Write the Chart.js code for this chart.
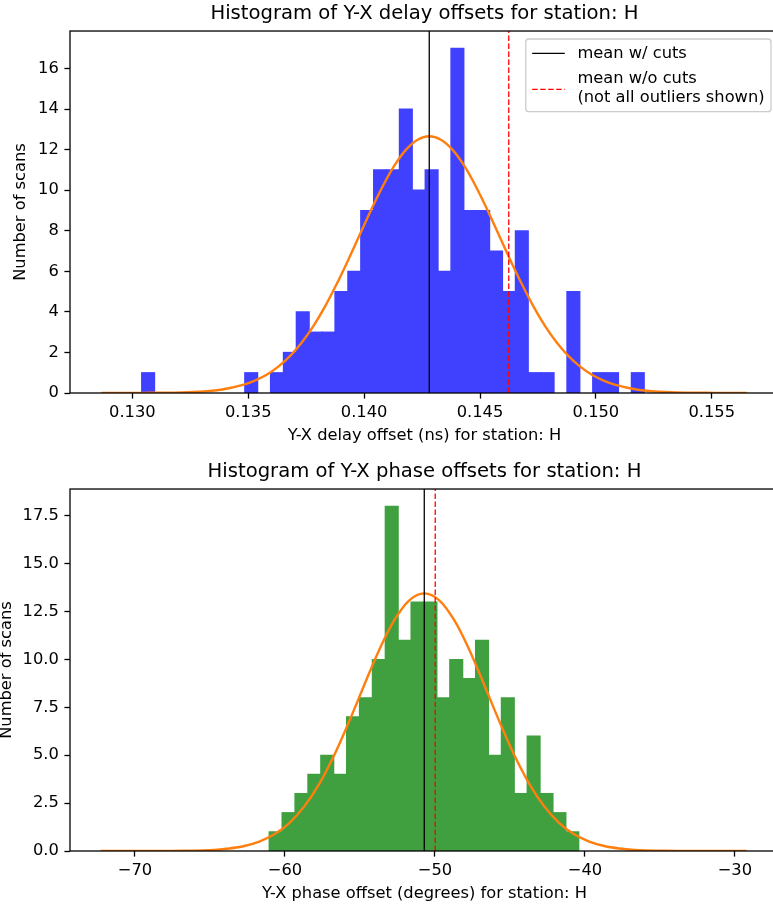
<!DOCTYPE html>
<html>
<head>
<meta charset="utf-8">
<title>Y-X offsets, station H</title>
<script src="https://cdn.jsdelivr.net/npm/chart.js@4"></script>
<style>
  html, body { margin: 0; padding: 0; overflow: hidden; background: #fff; }
  #wrap { position: relative; width: 773px; height: 906px; overflow: hidden; }
  #wrap canvas { position: absolute; left: 0; }
  #delayChart { top: 0; }
  #phaseChart { top: 458px; }
</style>
</head>
<body>
<div id="wrap">
  <canvas id="delayChart" width="785" height="453"></canvas>
  <canvas id="phaseChart" width="785" height="453"></canvas>
</div>
<script>
// --- delay offsets (ns) ---
const delayBinStart = 0.130402;
const delayBinWidth = 0.000556;
const delayCounts = [1, 0, 0, 0, 0, 0, 0, 0, 1, 0, 1, 2, 4, 3, 3, 5, 6, 9, 11, 11,
  14, 10, 11, 6, 17, 9, 9, 7, 5, 8, 1, 1, 0, 5, 0, 1, 1, 0, 1];
const delayFitX = [0.12867, 0.12981, 0.13081, 0.13181, 0.13281, 0.13381, 0.13481, 0.13531,
  0.13581, 0.13631, 0.13681, 0.13731, 0.13781, 0.13831, 0.13881, 0.13931, 0.13981, 0.14031,
  0.14081, 0.14131, 0.14181, 0.14231, 0.14281, 0.14331, 0.14381, 0.14431, 0.14481, 0.14531,
  0.14581, 0.14631, 0.14681, 0.14731, 0.14781, 0.14831, 0.14881, 0.14931, 0.14981, 0.15031,
  0.15081, 0.15181, 0.15281, 0.15381, 0.15481, 0.15581, 0.15651];
const delayFitY = [0.00, 0.00, 0.01, 0.02, 0.06, 0.16, 0.41, 0.62, 0.91, 1.31, 1.83, 2.49,
  3.30, 4.26, 5.36, 6.55, 7.80, 9.05, 10.21, 11.22, 12.00, 12.49, 12.66, 12.49, 12.00, 11.22,
  10.21, 9.05, 7.80, 6.55, 5.36, 4.26, 3.30, 2.49, 1.83, 1.31, 0.91, 0.62, 0.41, 0.16, 0.06,
  0.02, 0.01, 0.00, 0.00];
const delayMeanCut = 0.14281;
const delayMeanAll = 0.14624;
const delayXTicks = [0.130, 0.135, 0.140, 0.145, 0.150, 0.155];
const delayXTickLabels = ['0.130', '0.135', '0.140', '0.145', '0.150', '0.155'];
const delayYTicks = [0, 2, 4, 6, 8, 10, 12, 14, 16];
const delayYTickLabels = ['0', '2', '4', '6', '8', '10', '12', '14', '16'];

// --- phase offsets (degrees) ---
const phaseBinStart = -61.05;
const phaseBinWidth = 0.86;
const phaseCounts = [1, 2, 3, 4, 5, 4, 7, 8, 10, 18, 11, 13, 13, 8, 10, 9, 11, 5, 8, 3, 6, 3, 2, 1];
const phaseFitX = [-72.29, -70.71, -68.71, -66.71, -64.71, -63.71, -62.71, -61.71, -60.71,
  -59.71, -58.71, -57.71, -56.71, -55.71, -54.71, -53.71, -52.71, -51.71, -50.71, -49.71,
  -48.71, -47.71, -46.71, -45.71, -44.71, -43.71, -42.71, -41.71, -40.71, -39.71, -38.71,
  -37.71, -36.71, -34.71, -32.71, -30.71, -29.22];
const phaseFitY = [0.00, 0.00, 0.00, 0.01, 0.06, 0.13, 0.26, 0.49, 0.87, 1.46, 2.33, 3.51,
  5.01, 6.78, 8.67, 10.51, 12.05, 13.09, 13.45, 13.09, 12.05, 10.51, 8.67, 6.78, 5.01, 3.51,
  2.33, 1.46, 0.87, 0.49, 0.26, 0.13, 0.06, 0.01, 0.00, 0.00, 0.00];
const phaseMeanCut = -50.71;
const phaseMeanAll = -49.98;
const phaseXTicks = [-70, -60, -50, -40, -30];
const phaseXTickLabels = ['\u221270', '\u221260', '\u221250', '\u221240', '\u221230'];
const phaseYTicks = [0, 2.5, 5, 7.5, 10, 12.5, 15, 17.5];
const phaseYTickLabels = ['0.0', '2.5', '5.0', '7.5', '10.0', '12.5', '15.0', '17.5'];

const legendLabels = [['mean w/ cuts'], ['mean w/o cuts', '(not all outliers shown)']];

Chart.defaults.font.family = '"DejaVu Sans", sans-serif';
Chart.defaults.color = '#000';

const lineW = 1.3;
const textSize = 16.3;
const redDash = [5.5, 2.5];

function binBars(start, width, counts) {
  return counts.map((c, i) => ({ x: start + (i + 0.5) * width, y: c === 0 ? null : c }));
}

function points(xs, ys) {
  return xs.map((x, i) => ({ x: x, y: ys[i] }));
}

function fixedTicks(values) {
  return (scale) => { scale.ticks = values.map(v => ({ value: v })); };
}

function meanLine(x, yTop, colour, dash) {
  return {
    type: 'line',
    data: [{ x: x, y: 0 }, { x: x, y: yTop }],
    borderColor: colour,
    borderWidth: lineW,
    borderDash: dash,
    pointRadius: 0,
    order: 1
  };
}

function roundedBox(ctx, x, y, w, h, r) {
  ctx.beginPath();
  ctx.moveTo(x + r, y);
  ctx.arcTo(x + w, y, x + w, y + h, r);
  ctx.arcTo(x + w, y + h, x, y + h, r);
  ctx.arcTo(x, y + h, x, y, r);
  ctx.arcTo(x, y, x + w, y, r);
  ctx.closePath();
}

// box around the plot area, on top of the bars
const framePlugin = {
  id: 'frame',
  afterDatasetsDraw(chart) {
    const a = chart.chartArea;
    const ctx = chart.ctx;
    ctx.save();
    ctx.strokeStyle = '#000';
    ctx.lineWidth = lineW;
    ctx.strokeRect(a.left, a.top, a.right - a.left, a.bottom - a.top);
    ctx.restore();
  }
};

// legend for the two mean lines (second label runs over two lines)
const meanLegend = {
  id: 'meanLegend',
  afterDraw(chart) {
    const ctx = chart.ctx;
    const a = chart.chartArea;
    ctx.save();
    ctx.font = textSize + 'px "DejaVu Sans"';
    let textW = 0;
    legendLabels.forEach(lines => lines.forEach(t => {
      textW = Math.max(textW, ctx.measureText(t).width);
    }));
    const pad = 6.4, handleLen = 32.6, handleGap = 12.6;
    const w = pad * 2 + handleLen + handleGap + textW;
    const h = 72.7;
    const x0 = a.right - 8 - w;
    const y0 = a.top + 8;

    roundedBox(ctx, x0, y0, w, h, 3);
    ctx.fillStyle = 'rgba(255,255,255,0.8)';
    ctx.fill();
    ctx.strokeStyle = '#cccccc';
    ctx.lineWidth = lineW;
    ctx.stroke();

    const rows = [
      { handleY: 14.3, baselines: [18.7], colour: '#000', dash: [] },
      { handleY: 50.3, baselines: [43.7, 62.7], colour: '#ff0000', dash: redDash }
    ];
    const hx = x0 + pad;
    const tx = hx + handleLen + handleGap;
    rows.forEach((row, i) => {
      ctx.beginPath();
      ctx.setLineDash(row.dash);
      ctx.strokeStyle = row.colour;
      ctx.lineWidth = lineW;
      ctx.moveTo(hx, y0 + row.handleY);
      ctx.lineTo(hx + handleLen, y0 + row.handleY);
      ctx.stroke();
      ctx.setLineDash([]);
      ctx.fillStyle = '#000';
      ctx.textAlign = 'left';
      ctx.textBaseline = 'alphabetic';
      legendLabels[i].forEach((t, j) => ctx.fillText(t, tx, y0 + row.baselines[j]));
    });
    ctx.restore();
  }
};

function histChart(id, o) {
  return new Chart(document.getElementById(id), {
    type: 'bar',
    data: {
      datasets: [
        {
          type: 'bar',
          data: binBars(o.binStart, o.binWidth, o.counts),
          backgroundColor: o.barColour,
          borderWidth: 0,
          barPercentage: 1,
          categoryPercentage: 1,
          inflateAmount: 0.6,
          order: 3
        },
        {
          type: 'line',
          data: points(o.fitX, o.fitY),
          borderColor: '#ff7f0e',
          borderWidth: 2.4,
          pointRadius: 0,
          cubicInterpolationMode: 'monotone',
          order: 2
        },
        meanLine(o.meanCut, o.yMax, '#000', []),
        meanLine(o.meanAll, o.yMax, '#ff0000', redDash)
      ]
    },
    options: {
      responsive: false,
      animation: false,
      events: [],
      layout: { padding: { left: 0, right: 6, top: 0, bottom: 0 } },
      plugins: {
        legend: { display: false },
        tooltip: { enabled: false },
        title: {
          display: true,
          text: o.title,
          fullSize: false,
          font: { size: 19.6, weight: 'normal', lineHeight: 1.2 },
          padding: { top: 2.2, bottom: 5.3 }
        }
      },
      scales: {
        x: {
          type: 'linear',
          min: o.xMin,
          max: o.xMax,
          offset: false,
          afterFit: (s) => { s.height = 60; },
          afterBuildTicks: fixedTicks(o.xTicks),
          ticks: {
            autoSkip: false,
            maxRotation: 0,
            padding: 4,
            font: { size: textSize },
            callback: (v, i) => o.xTickLabels[i]
          },
          grid: {
            display: true, drawOnChartArea: false, offset: false,
            tickLength: 5.6, tickWidth: lineW, tickColor: '#000'
          },
          border: { display: false },
          title: {
            display: true,
            text: o.xLabel,
            font: { size: textSize, lineHeight: 1.2 },
            padding: { top: 0, bottom: 7.2 }
          }
        },
        y: {
          type: 'linear',
          min: 0,
          max: o.yMax,
          afterFit: (s) => { s.width = 70; },
          afterBuildTicks: fixedTicks(o.yTicks),
          ticks: {
            autoSkip: false,
            padding: 5.6,
            font: { size: textSize },
            callback: (v, i) => o.yTickLabels[i]
          },
          grid: {
            display: true, drawOnChartArea: false,
            tickLength: 5.6, tickWidth: lineW, tickColor: '#000'
          },
          border: { display: false },
          title: {
            display: true,
            text: 'Number of scans',
            font: { size: textSize, lineHeight: 1 },
            padding: { top: o.yLabelPad, bottom: 0 }
          }
        }
      }
    },
    plugins: o.legend ? [framePlugin, meanLegend] : [framePlugin]
  });
}

histChart('delayChart', {
  title: 'Histogram of Y-X delay offsets for station: H',
  xLabel: 'Y-X delay offset (ns) for station: H',
  binStart: delayBinStart, binWidth: delayBinWidth, counts: delayCounts,
  fitX: delayFitX, fitY: delayFitY,
  meanCut: delayMeanCut, meanAll: delayMeanAll,
  xMin: 0.12731, xMax: 0.15790, yMax: 17.85,
  xTicks: delayXTicks, xTickLabels: delayXTickLabels,
  yTicks: delayYTicks, yTickLabels: delayYTickLabels,
  yLabelPad: 12.6,
  barColour: '#4040ff',
  legend: true
});

histChart('phaseChart', {
  title: 'Histogram of Y-X phase offsets for station: H',
  xLabel: 'Y-X phase offset (degrees) for station: H',
  binStart: phaseBinStart, binWidth: phaseBinWidth, counts: phaseCounts,
  fitX: phaseFitX, fitY: phaseFitY,
  meanCut: phaseMeanCut, meanAll: phaseMeanAll,
  xMin: -74.33, xMax: -27.06, yMax: 18.9,
  xTicks: phaseXTicks, xTickLabels: phaseXTickLabels,
  yTicks: phaseYTicks, yTickLabels: phaseYTickLabels,
  yLabelPad: -1.2,
  barColour: '#40a040',
  legend: false
});
</script>
</body>
</html>
